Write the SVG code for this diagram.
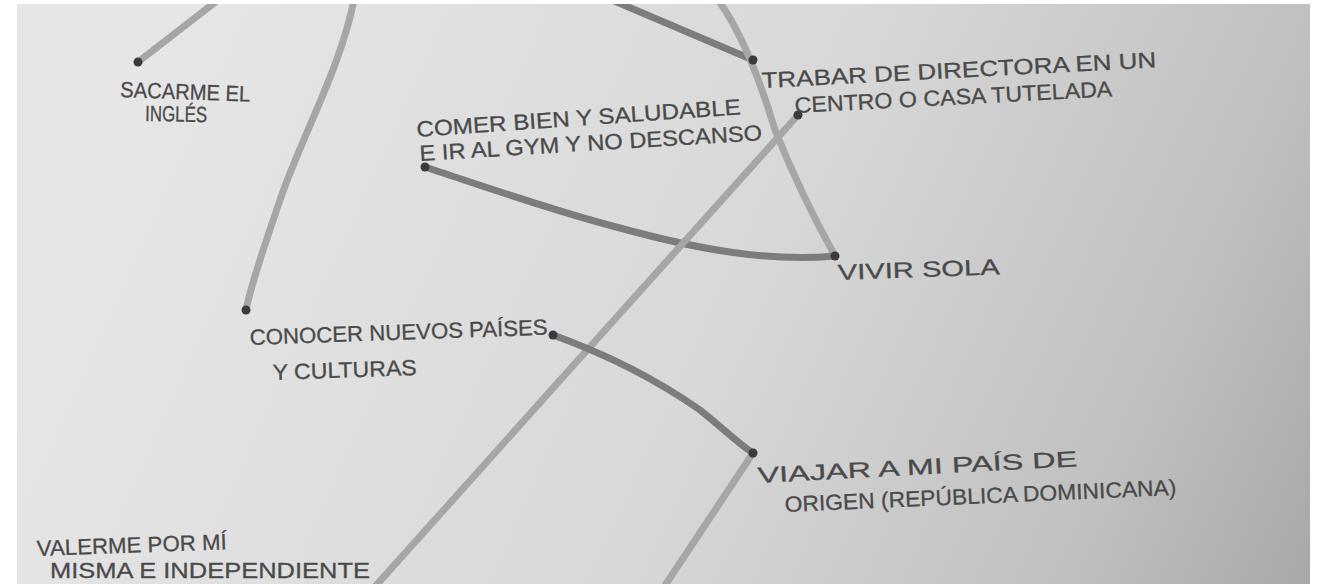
<svg xmlns="http://www.w3.org/2000/svg" width="1327" height="584" viewBox="0 0 1327 584">
<defs>
<linearGradient id="paper" gradientUnits="userSpaceOnUse" x1="150" y1="60" x2="1310" y2="584">
<stop offset="0" stop-color="#e6e6e6"/>
<stop offset="0.5" stop-color="#d8d8d8"/>
<stop offset="0.82" stop-color="#c0c0c0"/>
<stop offset="1" stop-color="#a8a8a8"/>
</linearGradient>
<clipPath id="pclip"><rect x="17" y="4" width="1293" height="580"/></clipPath>
</defs>
<style>
.light{fill:none;stroke:#a6a6a6;stroke-width:7;stroke-linecap:round;stroke-linejoin:round}
.dark{fill:none;stroke:#7c7c7c;stroke-width:7;stroke-linecap:round;stroke-linejoin:round}
.dot{fill:#3a3a3a}
.t{font-family:"Liberation Sans",Arial,sans-serif;fill:#4a4a4a;stroke:#4a4a4a;stroke-width:0.3;font-size:22px}
</style>
<rect x="0" y="0" width="1327" height="584" fill="#ffffff"/>
<rect x="17" y="4" width="1293" height="580" fill="url(#paper)"/>
<g id="connectors" clip-path="url(#pclip)">
<path class="light" d="M218,0 L138,62"/>
<path class="light" d="M354,0 C340,70 300,140 280,200 C265,245 252,280 246,310"/>
<path class="dark" d="M612,0 L753,60"/>
<path class="light" d="M718,0 C740,30 760,80 775,130 C795,180 815,220 835,256"/>
<path class="dark" d="M425,167 C480,185 550,210 620,228 C700,250 770,262 835,256"/>
<path class="light" d="M798,115 L372,590"/>
<path class="dark" d="M553,335 C600,352 650,375 700,410 C725,430 740,445 753,453"/>
<path class="light" d="M753,453 L662,590"/>
</g>
<g id="n-sacarme">
<circle class="dot" cx="138" cy="62" r="4.5"/>
<text class="t" font-size="19" transform="translate(120,97) rotate(2)" textLength="130" lengthAdjust="spacingAndGlyphs">SACARME EL</text>
<text class="t" font-size="19" transform="translate(145,121) rotate(1)" textLength="62" lengthAdjust="spacingAndGlyphs">INGLÉS</text>
</g>
<g id="n-comer">
<circle class="dot" cx="425" cy="167" r="4.5"/>
<text class="t" font-size="24" transform="translate(417,137) rotate(-4)" textLength="325" lengthAdjust="spacingAndGlyphs">COMER BIEN Y SALUDABLE</text>
<text class="t" font-size="22" transform="translate(420,161) rotate(-3.5)" textLength="343" lengthAdjust="spacingAndGlyphs">E IR AL GYM Y NO DESCANSO</text>
</g>
<g id="n-trabajar">
<circle class="dot" cx="753" cy="60" r="4.5"/>
<circle class="dot" cx="798" cy="115" r="4.5"/>
<text class="t" font-size="22" transform="translate(762,88) rotate(-3)" textLength="395" lengthAdjust="spacingAndGlyphs">TRABAR DE DIRECTORA EN UN</text>
<text class="t" font-size="22" transform="translate(795,113) rotate(-3)" textLength="318" lengthAdjust="spacingAndGlyphs">CENTRO O CASA TUTELADA</text>
</g>
<g id="n-vivir">
<circle class="dot" cx="835" cy="256" r="4.5"/>
<text class="t" font-size="24" transform="translate(838,280) rotate(-2)" textLength="162" lengthAdjust="spacingAndGlyphs">VIVIR SOLA</text>
</g>
<g id="n-conocer">
<circle class="dot" cx="246" cy="310" r="4.5"/>
<circle class="dot" cx="553" cy="335" r="4.5"/>
<text class="t" font-size="24" transform="translate(250,345) rotate(-2)" textLength="298" lengthAdjust="spacingAndGlyphs">CONOCER NUEVOS PAÍSES</text>
<text class="t" font-size="22" transform="translate(273,380) rotate(-2)" textLength="144" lengthAdjust="spacingAndGlyphs">Y CULTURAS</text>
</g>
<g id="n-viajar">
<circle class="dot" cx="753" cy="453" r="4.5"/>
<text class="t" font-size="22" transform="translate(758,483) rotate(-3)" textLength="320" lengthAdjust="spacingAndGlyphs">VIAJAR A MI PAÍS DE</text>
<text class="t" font-size="22" transform="translate(785,512) rotate(-2.5)" textLength="392" lengthAdjust="spacingAndGlyphs">ORIGEN (REPÚBLICA DOMINICANA)</text>
</g>
<g id="n-valerme">
<text class="t" font-size="21" transform="translate(37,556) rotate(-2)" textLength="190" lengthAdjust="spacingAndGlyphs">VALERME POR MÍ</text>
<text class="t" font-size="14" transform="translate(50,578)" textLength="320" lengthAdjust="spacingAndGlyphs">MISMA E INDEPENDIENTE</text>
</g>
</svg>
